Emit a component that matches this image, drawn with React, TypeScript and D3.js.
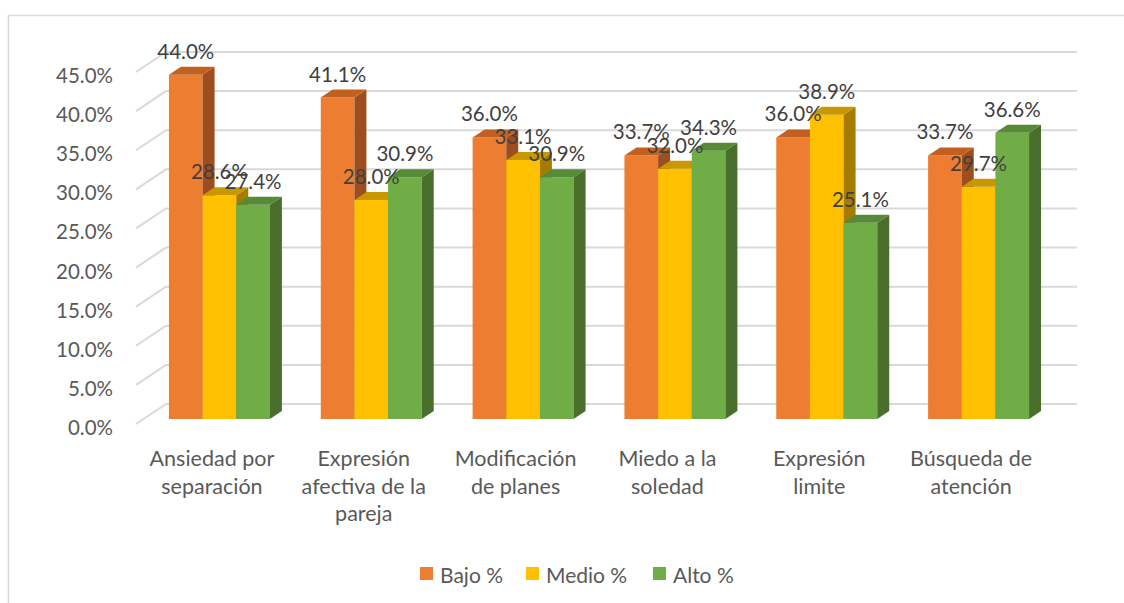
import * as d3 from 'd3';

const categories = [
  ['Ansiedad por', 'separación'],
  ['Expresión', 'afectiva de la', 'pareja'],
  ['Modificación', 'de planes'],
  ['Miedo a la', 'soledad'],
  ['Expresión', 'limite'],
  ['Búsqueda de', 'atención'],
];
const seriesNames = ['Bajo %', 'Medio %', 'Alto %'];
const bajo = [44.0, 41.1, 36.0, 33.7, 36.0, 33.7];
const medio = [28.6, 28.0, 33.1, 32.0, 38.9, 29.7];
const alto = [27.4, 30.9, 30.9, 34.3, 25.1, 36.6];
const yTicks = [0, 5, 10, 15, 20, 25, 30, 35, 40, 45];

const series = [bajo, medio, alto];
const faceColors = [
  { front: '#ED7D31', top: '#C2601F', side: '#9E4E1E' },
  { front: '#FFC000', top: '#C99700', side: '#A67C00' },
  { front: '#70AD47', top: '#578A36', side: '#4A6E2B' },
];

const W = 1124;
const H = 603;
const DX = 30; // depth offset of back wall
const DY = 20;
const Z0 = 0.25; // bar front depth
const Z1 = 0.65; // bar back depth
const font = 'Lato, "Open Sans", sans-serif';

export default function App() {
  const x = d3
    .scaleBand<number>()
    .domain(d3.range(categories.length))
    .range([136, 1047]);
  const y = d3.scaleLinear().domain([0, 45]).range([424, 72]);
  const groupW = x.bandwidth() * 0.665;
  const inner = d3
    .scaleBand<number>()
    .domain(d3.range(series.length))
    .range([-groupW / 2, groupW / 2]);

  const px = (xv: number, z: number) => xv + z * DX;
  const py = (v: number, z: number) => y(v) - z * DY;
  const pts = (arr: [number, number][]) => arr.map((p) => p.join(',')).join(' ');

  const bars: JSX.Element[] = [];
  const labels: JSX.Element[] = [];
  categories.forEach((_, ci) => {
    const cx = x(ci)! + x.bandwidth() / 2;
    series.forEach((vals, si) => {
      const v = vals[ci];
      const x0 = cx + inner(si)!;
      const x1 = x0 + inner.bandwidth();
      const c = faceColors[si];
      const front: [number, number][] = [
        [px(x0, Z0), py(0, Z0)],
        [px(x1, Z0), py(0, Z0)],
        [px(x1, Z0), py(v, Z0)],
        [px(x0, Z0), py(v, Z0)],
      ];
      const side: [number, number][] = [
        [px(x1, Z0), py(0, Z0)],
        [px(x1, Z1), py(0, Z1)],
        [px(x1, Z1), py(v, Z1)],
        [px(x1, Z0), py(v, Z0)],
      ];
      const top: [number, number][] = [
        [px(x0, Z0), py(v, Z0)],
        [px(x1, Z0), py(v, Z0)],
        [px(x1, Z1), py(v, Z1)],
        [px(x0, Z1), py(v, Z1)],
      ];
      bars.push(
        <g key={`b${ci}-${si}`}>
          <polygon points={pts(front)} fill={c.front} />
          <polygon points={pts(side)} fill={c.side} />
          <polygon points={pts(top)} fill={c.top} />
        </g>
      );
      labels.push(
        <text
          key={`l${ci}-${si}`}
          x={px((x0 + x1) / 2, Z0)}
          y={py(v, Z1) - 16}
          textAnchor="middle"
          dominantBaseline="central"
          fontSize={20.5}
          fill="#404040"
        >
          {v.toFixed(1)}%
        </text>
      );
    });
  });

  const legendX = [420, 526, 653];

  return (
    <svg
      width={W}
      height={H}
      style={{ position: 'absolute', left: 0, top: 0, fontFamily: font }}
    >
      <rect x={0} y={0} width={W} height={H} fill="#fff" />
      <rect
        x={8.5}
        y={15.5}
        width={W + 20}
        height={H + 20}
        fill="none"
        stroke="#d9d9d9"
        strokeWidth={1.5}
      />
      {yTicks.map((t) => (
        <g key={t}>
          <polyline
            points={pts([
              [px(136, 0), py(t, 0)],
              [px(136, 1), py(t, 1)],
              [px(1047, 1), py(t, 1)],
            ])}
            fill="none"
            stroke="#d9d9d9"
            strokeWidth={2}
          />
          <text
            x={113}
            y={y(t) + 3}
            textAnchor="end"
            dominantBaseline="central"
            fontSize={20.5}
            fill="#595959"
          >
            {t.toFixed(1)}%
          </text>
        </g>
      ))}
      {bars}
      {labels}
      {categories.map((lines, ci) => (
        <text
          key={`c${ci}`}
          textAnchor="middle"
          fontSize={21.5}
          fill="#595959"
        >
          {lines.map((ln, li) => (
            <tspan
              key={li}
              x={x(ci)! + x.bandwidth() / 2}
              y={458 + li * 27.5}
              dominantBaseline="central"
            >
              {ln}
            </tspan>
          ))}
        </text>
      ))}
      {seriesNames.map((s, i) => (
        <g key={s}>
          <rect x={legendX[i]} y={567} width={13} height={13} fill={faceColors[i].front} />
          <text
            x={legendX[i] + 20}
            y={574}
            dominantBaseline="central"
            fontSize={21}
            fill="#595959"
          >
            {s}
          </text>
        </g>
      ))}
    </svg>
  );
}
